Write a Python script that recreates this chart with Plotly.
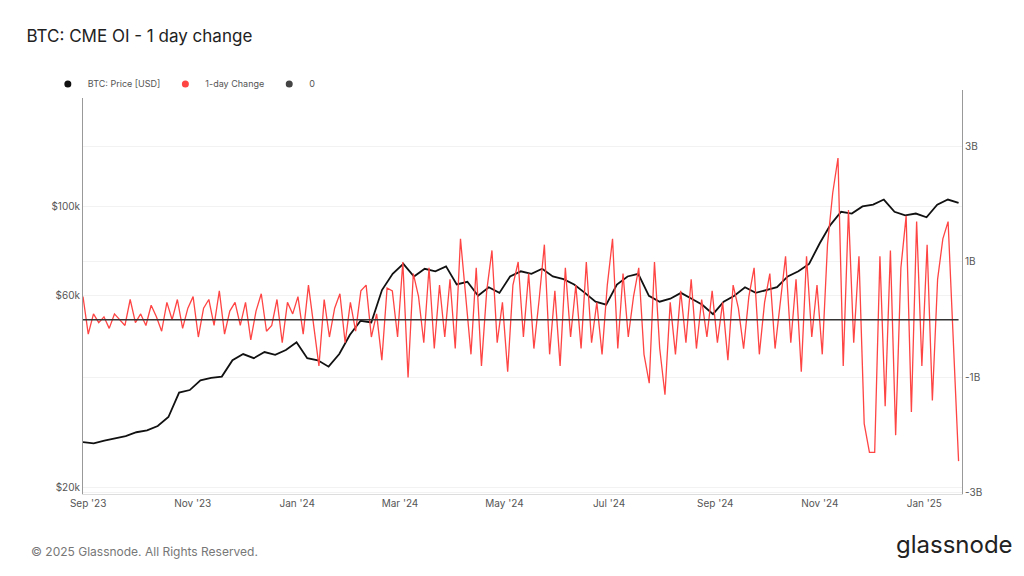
import pandas as pd
import plotly.graph_objects as go

# BTC price, roughly weekly (USD thousands), Aug 29 2023 -> Jan 21 2025
price_k = [26, 25.8, 26.2, 26.5, 26.9,
           27.5, 27.8, 28.5, 30.0, 34.5,
           35, 37, 37.5, 37.8,
           41.5, 43, 42, 43.5, 42.8,
           44, 46, 42, 41.5, 40,
           43, 48, 52, 51.5,
           62, 68, 72, 67, 70,
           69, 71, 64, 65,
           60, 63, 61, 67, 69, 68,
           70, 67, 66, 64, 61,
           58, 57, 64, 67, 68,
           60, 58, 59, 61, 59,
           57, 54, 58, 60, 63,
           61, 62, 63, 67, 69,
           72, 81, 90, 97,
           96, 100, 101, 104, 97, 95,
           96, 94, 101, 104, 102]

# CME open interest 1-day change (billions USD), sampled every ~3 days
change_b = [0.4, -0.25, 0.1, -0.05, 0.05, -0.15, 0.1, 0.0, -0.1, 0.35, -0.05,
            0.1, -0.1, 0.25, 0.05, -0.2, 0.3, 0.0, 0.35, -0.15, 0.2,
            0.4, -0.3, 0.2, 0.35, -0.1, 0.5, -0.25, 0.15, 0.3, -0.1,
            0.3, -0.35, 0.15, 0.45, -0.2, -0.1, 0.35, -0.4, 0.3, 0.1,
            0.4, -0.25, 0.6, -0.1, -0.8, 0.35, -0.3, 0.2, 0.45, -0.4,
            0.3, -0.2, 0.5, 0.6, -0.3, 0.1, -0.7, 0.55, 0.5, -0.3,
            1.0, -1.0, 0.8, 0.4, -0.4, 0.9, -0.5, 0.6, -0.3, 0.7,
            -0.5, 1.4, 0.4, -0.6, 0.9, -0.8, 0.5, 1.2, -0.4, 0.3,
            -0.9, 0.6, 1.0, -0.3, 0.8, -0.5, 0.35, 1.3, -0.6, 0.5,
            -0.8, 0.9, -0.3, 0.6, -0.5, 1.0, -0.4, 0.3, -0.6, 0.6,
            1.4, -0.5, 0.8, -0.3, 0.4, 0.9, -0.6, -1.1, 1.0, -0.5,
            -1.3, 0.3, -0.6, 0.5, -0.4, 0.7, -0.5, 0.35, -0.3, 0.5,
            -0.4, 0.3, -0.7, 0.6, 0.2, -0.5, 0.4, 0.9, -0.6, 0.3,
            0.8, -0.5, 0.3, 1.1, -0.4, 0.7, -0.9, 1.1, -0.3, 0.6,
            -0.6, 1.3, 2.2, 2.8, -0.8, 1.9, -0.4, 1.1, -1.8, -2.3,
            -2.3, 1.1, -1.5, 1.2, -2.0, 0.9, 1.8, -1.6, 1.7, -0.8,
            1.3, -1.4, 0.7, 1.4, 1.7, -0.5, -2.45]

start, end = "2023-08-29", "2025-01-21"
price_dates = pd.date_range(start, end, periods=len(price_k))
change_dates = pd.date_range(start, end, periods=len(change_b))

fig = go.Figure()
fig.add_trace(go.Scatter(x=price_dates, y=[p * 1000 for p in price_k], showlegend=False,
                         line=dict(color="#111111", width=1.8)))
fig.add_trace(go.Scatter(x=change_dates, y=[c * 1e9 for c in change_b], showlegend=False,
                         yaxis="y2", line=dict(color="#ff4444", width=1.3)))
fig.add_trace(go.Scatter(x=[start, end], y=[0, 0], showlegend=False, yaxis="y2", mode="lines",
                         line=dict(color="#333333", width=1.5)))
# dot-style legend entries
for name, col in [("BTC: Price [USD]", "#111111"), ("1-day Change", "#ff4444"), ("0", "#444444")]:
    fig.add_trace(go.Scatter(x=[None], y=[None], mode="markers", name=name,
                             marker=dict(color=col, size=7)))

fig.update_layout(
    width=1024, height=576,
    paper_bgcolor="white", plot_bgcolor="white",
    font=dict(family="Inter, Roboto, sans-serif", color="#555555", size=10),
    margin=dict(l=75, r=70, t=82, b=90),
    title=dict(text="BTC: CME OI - 1 day change", x=0.018, y=0.962,
               font=dict(size=17, color="#222222")),
    legend=dict(orientation="h", x=-0.04, y=1.015, xanchor="left", yanchor="middle",
                font=dict(size=9, color="#555555"), itemwidth=30),
    xaxis=dict(range=["2023-08-29", "2025-01-23"], showgrid=False,
               tickvals=pd.date_range("2023-09-01", "2025-01-01", freq="2MS"),
               tickformat="%b '%y", ticks="", showline=True, linecolor="#dddddd"),
    yaxis=dict(type="log", range=[4.286, 5.289], tickvals=[20000, 60000, 100000],
               ticktext=["$20k", "$60k", "$100k"], showline=True, linecolor="#999999",
               gridcolor="#f2f2f2", zeroline=False),
    yaxis2=dict(overlaying="y", side="right", range=[-3.02e9, 3.98e9],
                tickvals=[-3e9, -1e9, 1e9, 3e9], ticktext=["-3B", "-1B", "1B", "3B"],
                showline=True, linecolor="#999999", gridcolor="#f2f2f2", zeroline=False),
)

fig.add_annotation(text="© 2025 Glassnode. All Rights Reserved.", xref="paper", yref="paper",
                   x=-0.062, y=-0.165, xanchor="left", showarrow=False,
                   font=dict(size=12, color="#777777"))
fig.add_annotation(text="glassnode", xref="paper", yref="paper", x=1.06, y=-0.165,
                   xanchor="right", showarrow=False, font=dict(size=24, color="#222222"))

fig.write_html("out.html")
